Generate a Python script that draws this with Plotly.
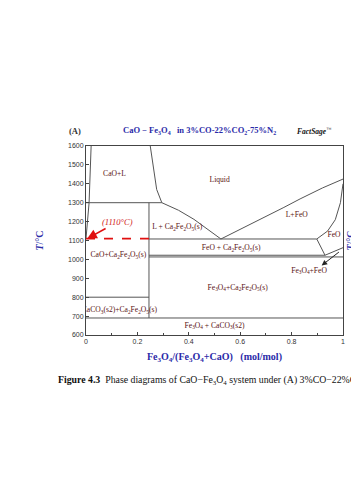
import plotly.graph_objects as go

# ---- data (phase boundaries) ----
liq_left_x = [0.02, 0.012, 0.0]
liq_left_y = [1600, 1300, 1110]

cao_liq_x = [0.25, 0.275, 0.295]
cao_liq_y = [1600, 1370, 1300]

h1300_x = [0.0, 0.295]
h1300_y = [1300, 1300]

liquidus_c2f_x = [0.295, 0.36, 0.42, 0.47, 0.525]
liquidus_c2f_y = [1300, 1260, 1212, 1162, 1108]

liquidus_feo_x = [0.525, 0.573, 0.64, 0.703, 0.77, 0.833, 0.92, 1.0]
liquidus_feo_y = [1108, 1140, 1185, 1226, 1275, 1320, 1378, 1425]

feo_sol_x = [0.898, 0.94, 0.97, 0.99, 1.0]
feo_sol_y = [1108, 1150, 1210, 1300, 1400]

vert_x = [0.245, 0.245]
vert_y = [1300, 690]

h1110_x = [0.245, 0.898]
h1110_y = [1108, 1108]

dash_x = [0.0, 0.245]
dash_y = [1110, 1110]

h1022_x = [0.245, 0.93]
h1022_y = [1022, 1022]

h1013_x = [0.245, 1.0]
h1013_y = [1013, 1013]

wedge_x = [0.898, 0.93, 1.0]
wedge_y = [1108, 1022, 1062]

h800_x = [0.0, 0.245]
h800_y = [800, 800]

h690_x = [0.0, 1.0]
h690_y = [690, 690]

labels = ["CaO+L", "Liquid", "L+FeO", "FeO", "L + Ca<sub>2</sub>Fe<sub>2</sub>O<sub>5</sub>(s)",
          "FeO + Ca<sub>2</sub>Fe<sub>2</sub>O<sub>5</sub>(s)", "CaO+Ca<sub>2</sub>Fe<sub>2</sub>O<sub>5</sub>(s)",
          "Fe<sub>3</sub>O<sub>4</sub>+FeO", "Fe<sub>3</sub>O<sub>4</sub>+Ca<sub>2</sub>Fe<sub>2</sub>O<sub>5</sub>(s)",
          "CaCO<sub>3</sub>(s2)+Ca<sub>2</sub>Fe<sub>2</sub>O<sub>5</sub>(s)", "Fe<sub>3</sub>O<sub>4</sub> + CaCO<sub>3</sub>(s2)"]
label_x = [0.111, 0.52, 0.82, 0.965, 0.355, 0.565, 0.126, 0.868, 0.59, 0.13, 0.5]
label_y = [1450, 1420, 1235, 1128, 1170, 1060, 1023, 939, 850, 732, 648]

x_ticks = [0, 0.2, 0.4, 0.6, 0.8, 1]
x_ticklabels = ["0", "0.2", "0.4", "0.6", "0.8", "1"]
y_ticks = [600, 700, 800, 900, 1000, 1100, 1200, 1300, 1400, 1500, 1600]

LINE = "#555555"
LAB = "#5a1212"
BLUE = "#2a2aa8"
SERIF = "Liberation Serif, DejaVu Serif, serif"

fig = go.Figure()

def add_line(xs, ys, color=LINE, width=1, dash="solid"):
    fig.add_trace(go.Scatter(x=xs, y=ys, mode="lines",
                             line=dict(color=color, width=width, dash=dash),
                             hoverinfo="skip", showlegend=False))

for xs, ys in [(liq_left_x, liq_left_y), (cao_liq_x, cao_liq_y), (h1300_x, h1300_y),
               (liquidus_c2f_x, liquidus_c2f_y), (liquidus_feo_x, liquidus_feo_y),
               (feo_sol_x, feo_sol_y), (vert_x, vert_y), (h1110_x, h1110_y),
               (h1022_x, h1022_y), (h1013_x, h1013_y), (wedge_x, wedge_y),
               (h800_x, h800_y), (h690_x, h690_y)]:
    add_line(xs, ys)

add_line(dash_x, dash_y, color="#e01010", width=1.6, dash="dash")

fig.add_trace(go.Scatter(x=label_x, y=label_y, mode="text", text=labels,
                         textfont=dict(family=SERIF, size=7.6, color=LAB),
                         hoverinfo="skip", showlegend=False))

# red annotation with arrow
fig.add_annotation(x=0.005, y=1110, ax=0.122, ay=1198, xref="x", yref="y", axref="x", ayref="y",
                   text="<i>(1110°C)</i>", showarrow=True, arrowhead=2, arrowsize=1.2,
                   arrowwidth=1.6, arrowcolor="#e01010", standoff=0,
                   font=dict(family=SERIF, size=8.5, color="#d01818"))
# black arrow to Fe3O4+FeO
fig.add_annotation(x=0.917, y=968, ax=0.99, ay=1045, xref="x", yref="y", axref="x", ayref="y",
                   text="", showarrow=True, arrowhead=2, arrowsize=1.1, arrowwidth=1,
                   arrowcolor="#222222", standoff=0)

# titles
fig.add_annotation(text="<b>(A)</b>", x=-0.075, y=1.08, xref="paper", yref="paper", yanchor="middle",
                   showarrow=False, font=dict(family=SERIF, size=8.5, color="#333333"))
fig.add_annotation(text="<b>CaO − Fe<sub>3</sub>O<sub>4</sub>   in 3%CO-22%CO<sub>2</sub>-75%N<sub>2</sub></b>",
                   x=0.44, y=1.08, xref="paper", yref="paper", yanchor="middle", showarrow=False,
                   font=dict(family=SERIF, size=8.5, color=BLUE))
fig.add_annotation(text="<b><i>FactSage</i></b><sup>™</sup>", x=0.96, y=1.08, xref="paper", yref="paper",
                   yanchor="middle", showarrow=False, font=dict(family=SERIF, size=7.5, color="#111111"))

fig.add_annotation(text="<b>Figure 4.3</b>  Phase diagrams of CaO−Fe<sub>3</sub>O<sub>4</sub> system under (A) 3%CO−22%CO<sub>2</sub>−75%N<sub>2</sub>",
                   x=-0.115, y=-0.238, xref="paper", yref="paper", xanchor="left", yanchor="middle",
                   showarrow=False, font=dict(family=SERIF, size=9.8, color="#111111"))
# right-hand partial axis title (from neighbour panel)
fig.add_annotation(text="<b><i>T</i>/°C</b>", x=1.045, xshift=3, y=0.5, xref="paper", yref="paper",
                   textangle=-90, showarrow=False, font=dict(family=SERIF, size=10, color=BLUE))

axis_common = dict(showline=True, linecolor="#444444", linewidth=1, mirror=True,
                   ticks="inside", ticklen=3, tickcolor="#444444", showgrid=False, zeroline=False,
                   tickfont=dict(family="Liberation Sans, Arial, sans-serif", size=7, color="#333333"))

fig.update_xaxes(range=[0, 1], tickvals=x_ticks, ticktext=x_ticklabels,
                 minor=dict(ticks="inside", ticklen=2, dtick=0.1, tickcolor="#444444"),
                 title=dict(text="<b>Fe<sub>3</sub>O<sub>4</sub>/(Fe<sub>3</sub>O<sub>4</sub>+CaO)   (mol/mol)</b>",
                            font=dict(family=SERIF, size=10, color=BLUE), standoff=8),
                 **axis_common)
fig.update_yaxes(range=[600, 1600], tickvals=y_ticks,
                 title=dict(text="<b><i>T</i>/°C</b>", font=dict(family=SERIF, size=10, color=BLUE),
                            standoff=22),
                 **axis_common)

fig.update_layout(width=359, height=480, paper_bgcolor="white", plot_bgcolor="white",
                  margin=dict(l=78, r=24, t=138, b=153, pad=0))

fig.write_html("out.html")
